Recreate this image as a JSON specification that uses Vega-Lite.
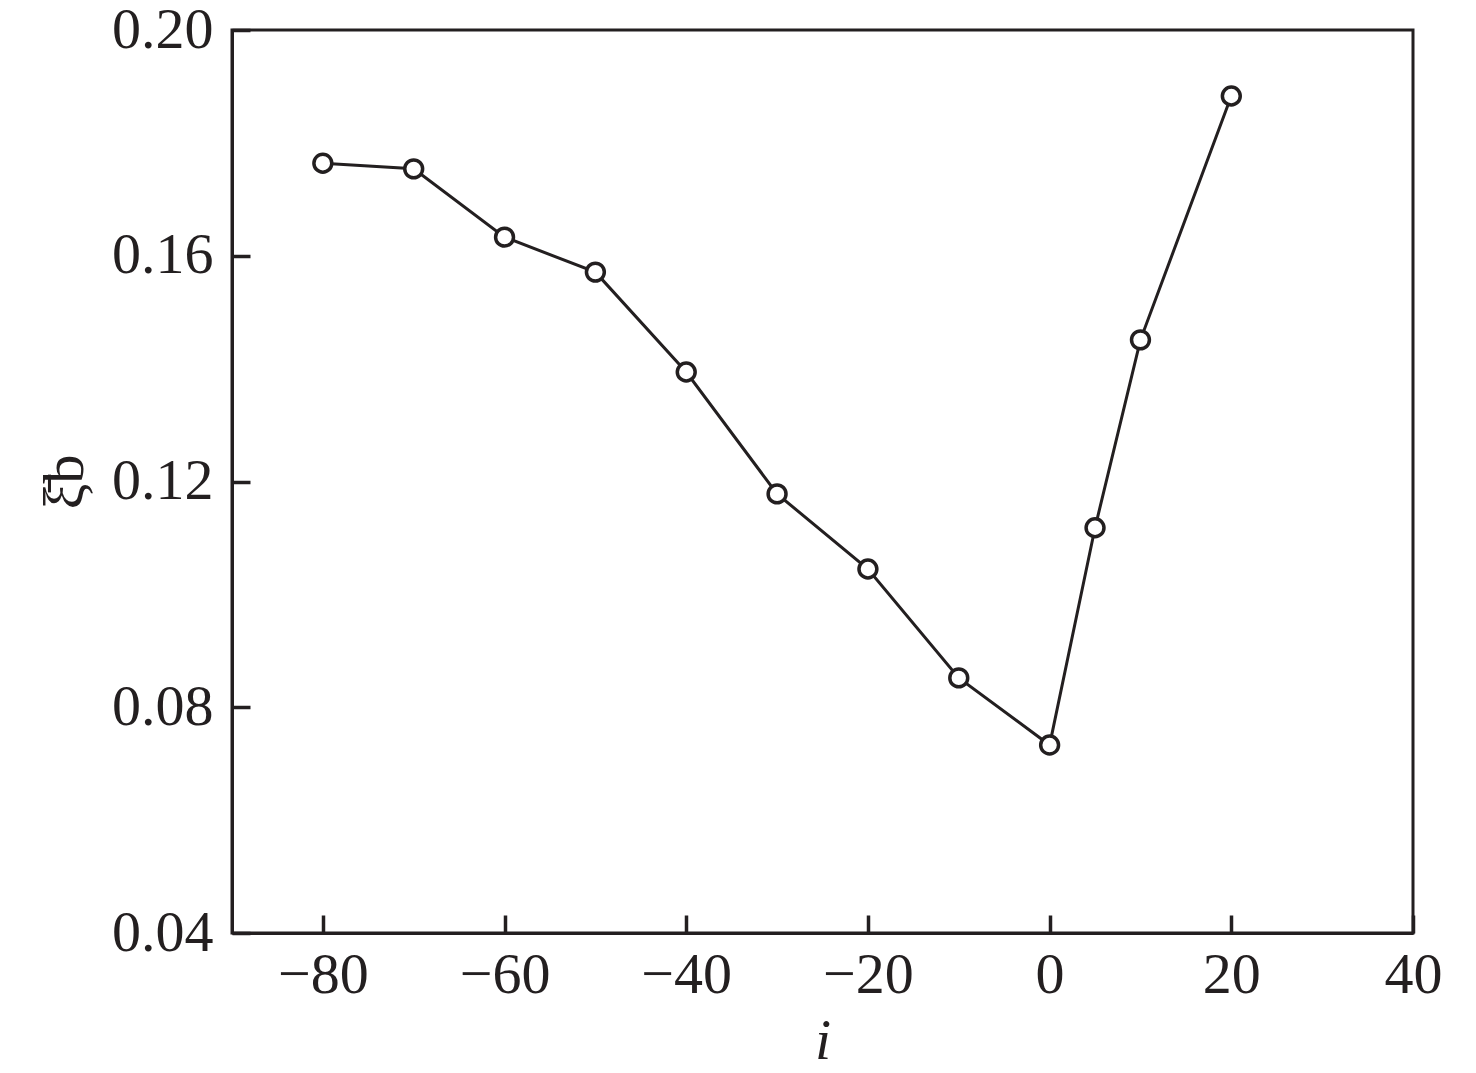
{
  "$schema": "https://vega.github.io/schema/vega-lite/v6.json",
  "width": 1181,
  "height": 903,
  "autosize": "none",
  "padding": {"left": 232, "top": 30, "right": 63, "bottom": 140},
  "background": "white",
  "config": {
    "view": {"stroke": "#231f20", "strokeWidth": 3},
    "axis": {
      "domainColor": "#231f20",
      "domainWidth": 3,
      "tickColor": "#231f20",
      "tickWidth": 3.5,
      "tickSize": -18,
      "ticks": true,
      "grid": false,
      "labelFont": "Liberation Serif",
      "labelFontSize": 58,
      "labelColor": "#231f20",
      "titleFont": "Liberation Serif",
      "titleFontSize": 58,
      "titleFontWeight": "normal",
      "titleColor": "#231f20"
    }
  },
  "data": {
    "values": [
      {"i": -80, "xi": 0.1764},
      {"i": -70, "xi": 0.1754},
      {"i": -60, "xi": 0.1633},
      {"i": -50, "xi": 0.1571},
      {"i": -40, "xi": 0.1394},
      {"i": -30, "xi": 0.1178},
      {"i": -20, "xi": 0.1045},
      {"i": -10, "xi": 0.0852},
      {"i": 0, "xi": 0.0733},
      {"i": 5, "xi": 0.1118},
      {"i": 10, "xi": 0.1451},
      {"i": 20, "xi": 0.1883}
    ]
  },
  "encoding": {
    "x": {
      "field": "i",
      "type": "quantitative",
      "scale": {"domain": [-90, 40], "nice": false, "zero": false},
      "axis": {
        "values": [-80, -60, -40, -20, 0, 20, 40],
        "labelPadding": 31,
        "labelFlush": false,
        "title": "i",
        "titleFontStyle": "italic",
        "titlePadding": 8
      }
    },
    "y": {
      "field": "xi",
      "type": "quantitative",
      "scale": {"domain": [0.04, 0.2], "nice": false, "zero": false},
      "axis": {
        "values": [0.04, 0.08, 0.12, 0.16, 0.2],
        "format": ".2f",
        "labelPadding": 37,
        "labelFlush": false,
        "title": "ξ̄b",
        "titlePadding": 17
      }
    }
  },
  "layer": [
    {"mark": {"type": "line", "color": "#231f20", "strokeWidth": 3}},
    {"mark": {"type": "point", "shape": "circle", "filled": false, "fill": "white", "fillOpacity": 1, "stroke": "#231f20", "strokeWidth": 3.5, "size": 320, "opacity": 1}}
  ]
}
